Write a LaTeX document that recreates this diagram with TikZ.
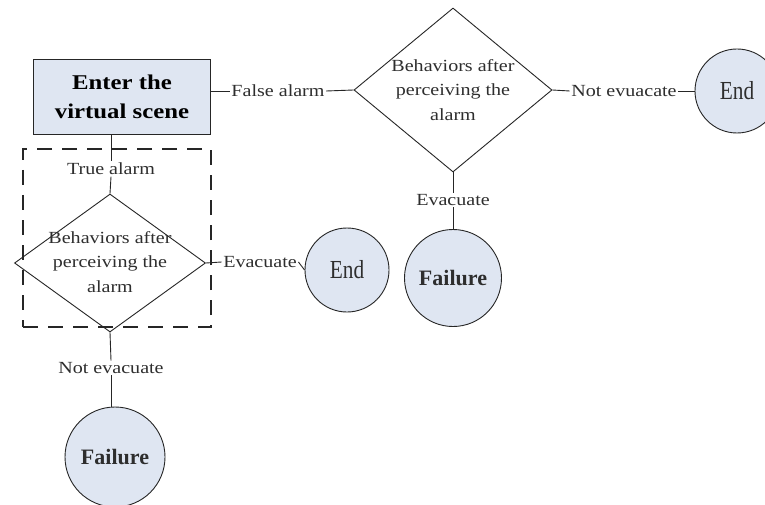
\documentclass[tikz,border=0pt]{standalone}
\usepackage{fontspec}
\setmainfont[FakeStretch=1.18]{Liberation Serif}
\newfontfamily\endfont[FakeStretch=0.82]{Liberation Serif}
\newfontfamily\failfont{Liberation Serif}
\usetikzlibrary{shapes.geometric}
\definecolor{nodefill}{HTML}{DFE6F2}
\definecolor{txt}{HTML}{2E2E2E}
\definecolor{ln}{HTML}{262626}
\begin{document}
\begin{tikzpicture}[x=1pt,y=-1pt,
  line/.style={draw=ln, line width=0.9pt},
  startbox/.style={rectangle, draw=ln, line width=1.4pt, fill=nodefill,
    minimum width=177pt, minimum height=75pt, inner sep=0pt, align=center,
    text=black, font=\fontsize{21}{29}\selectfont\bfseries},
  dia/.style={diamond, draw=ln, line width=0.9pt, fill=white, inner sep=0pt},
  diatext/.style={align=center, text=txt, inner sep=0pt,
    font=\fontsize{17}{24.5}\selectfont},
  endc/.style={circle, draw=ln, line width=0.9pt, fill=nodefill,
    minimum size=84pt, inner sep=0pt, text=txt,
    font=\endfont\fontsize{26}{26}\selectfont},
  failc/.style={circle, draw=ln, line width=0.9pt, fill=nodefill,
    minimum size=#1, inner sep=0pt, text=txt,
    font=\failfont\fontsize{22}{22}\selectfont\bfseries},
  lab/.style={text=txt, inner sep=1.5pt, font=\fontsize{17}{17}\selectfont},
  groupbox/.style={rectangle, draw=ln, line width=1.3pt,
    dash pattern=on 15pt off 10pt, minimum width=188pt, minimum height=178pt,
    inner sep=0pt}
]
\useasboundingbox (0,0) rectangle (765,505);
\fill[white] (0,0) rectangle (765,505);

% nodes
\node[startbox] (start) at (122,97) {Enter the\\virtual scene};
\node[groupbox] (grp) at (117,238) {};

\node[dia, minimum width=198pt, minimum height=164pt] (d1) at (453,90) {};
\node[diatext] (t1) at (453,90) {Behaviors after\\perceiving the\\alarm};

\node[dia, minimum width=191pt, minimum height=138pt, fill=none] (d2) at (110,263) {};
\node[diatext] (t2) at (110,262) {Behaviors after\\perceiving the\\alarm};

\node[endc] (end1) at (737,91) {End};
\node[endc] (end2) at (347,270) {End};
\node[failc=97pt] (fail1) at (453,278) {Failure};
\node[failc=100pt] (fail2) at (115,457) {Failure};

\node[lab] (lfalse) at (278,91) {False alarm};
\node[lab] (ltrue) at (111,169) {True alarm};
\node[lab] (levac1) at (260,262) {Evacuate};
\node[lab] (lnotev) at (111,368) {Not evacuate};
\node[lab] (lnotevu) at (624,91) {Not evuacate};
\node[lab] (levac2) at (453,200) {Evacuate};

% connectors
\draw[line] (start.east |- lfalse) -- (lfalse.west);
\draw[line] (lfalse.east) -- (d1.west);
\draw[line] (d1.east) -- (lnotevu.west);
\draw[line] (lnotevu.east) -- (end1.west);
\draw[line] (d1.south) -- (levac2.north);
\draw[line] (levac2.south) -- (fail1.north);
\draw[line] (start.south -| ltrue) -- (ltrue.north);
\draw[line] (ltrue.south) -- (d2.north);
\draw[line] (d2.east) -- (levac1.west);
\draw[line] (levac1.east) -- (end2.west);
\draw[line] (d2.south) -- (lnotev.north);
\draw[line] (lnotev.south) -- (lnotev.south |- fail2.north);
\end{tikzpicture}
\end{document}
